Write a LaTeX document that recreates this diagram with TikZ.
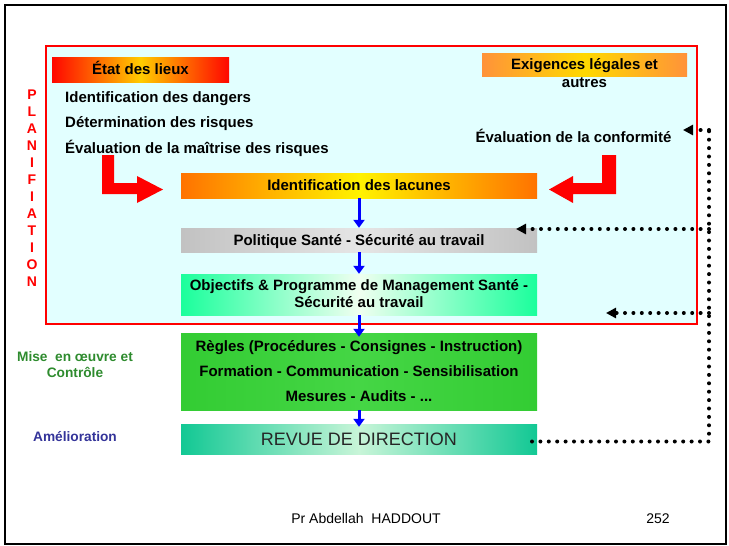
\documentclass[tikz,border=0pt]{standalone}
\usepackage{fontspec}
\setmainfont{Liberation Sans}
\usetikzlibrary{arrows.meta}
\definecolor{plancyan}{HTML}{E2FFFF}
\definecolor{txtgreen}{HTML}{2E8B2E}
\definecolor{txtblue}{HTML}{333399}
\definecolor{revedge}{HTML}{12C894}
\definecolor{revmid}{HTML}{C8F5D8}
\definecolor{objedge}{HTML}{1AFF9C}
\definecolor{regedge}{HTML}{33CC33}
\definecolor{regmid}{HTML}{45D645}
\begin{document}
\begin{tikzpicture}[x=1pt,y=-1pt,
  bold/.style={font=\bfseries\fontsize{15pt}{17pt}\selectfont, text=black, inner sep=0pt},
  box/.style={bold, minimum width=356pt, text height=10.7pt, text depth=0pt},
  hshade/.style 2 args={left color=#1, right color=#1, middle color=#2},
  bluearrow/.style={draw=blue, line width=3pt, -{Triangle[length=8pt,width=11pt]}},
  feedback/.style={draw=black, line width=4pt, line cap=round, dash pattern=on 0pt off 8.4pt, -{Triangle[length=10pt,width=10pt]}},
  feedbackline/.style={draw=black, line width=4pt, line cap=round, dash pattern=on 0pt off 8.4pt},
  redarrow/.style={fill=red}
]
\useasboundingbox (0,0) rectangle (729,546);
% slide frame
\draw[line width=2pt] (5,5) rectangle (726,544);

% planning area
\node[draw=red, line width=1.3pt, fill=plancyan, minimum width=651pt, minimum height=278pt, inner sep=0pt] (plan) at (371.5,185) {};
\node[font=\bfseries\fontsize{14pt}{17pt}\selectfont, text=red, align=center, inner sep=0pt, text height=197pt, text depth=0pt] (planlbl) at (32,188.4)
  {P\\L\\A\\N\\I\\F\\I\\A\\T\\I\\O\\N};

% headers
\node[bold, hshade={red!95!orange}{orange!40!yellow}, minimum width=177pt, minimum height=25pt, text height=10.7pt, text depth=0pt] (etat) at (140.5,69.5) {État des lieux};
\node[bold, hshade={orange!70!pink}{yellow!70!orange}, minimum width=205pt, minimum height=23pt, text height=10.7pt, text depth=0pt] (exig) at (584.5,64.5) {Exigences légales et};
\node[bold, text height=10.7pt, text depth=0pt] (autres) at (584.5,82) {autres};

% inventory lines
\node[bold, anchor=west, text height=10.7pt, text depth=0pt] (dang) at (65,97) {Identification des dangers};
\node[bold, anchor=west, text height=10.7pt, text depth=0pt] (risq) at (65,122) {Détermination des risques};
\node[bold, anchor=west, text height=10.7pt, text depth=0pt] (maitr) at (65,148) {Évaluation de la maîtrise des risques};
\node[bold, text height=10.7pt, text depth=0pt] (conf) at (573.5,137) {Évaluation de la conformité};

% main chain
\node[box, hshade={orange!90!red}{yellow!90!orange}, minimum height=25pt] (lac) at (359,185.5) {Identification des lacunes};
\node[box, hshade={black!24}{black!10}, minimum height=24pt] (pol) at (359,240) {Politique Santé - Sécurité au travail};
\node[box, hshade={objedge}{green!6}, minimum height=41pt, align=center, text height=26.7pt] (obj) at (359,294.5)
  {Objectifs \& Programme de Management Santé -\\Sécurité au travail};
\node[box, font=\bfseries\fontsize{15pt}{25pt}\selectfont, hshade={regedge}{regmid}, minimum height=77pt, align=center, text height=60.7pt] (reg) at (359,371.5)
  {Règles (Procédures - Consignes - Instruction)\\Formation - Communication - Sensibilisation\\Mesures - Audits - ...};
\node[box, font=\fontsize{18pt}{20pt}\selectfont, text=black!85, hshade={revedge}{revmid}, minimum height=30pt, text height=12.9pt] (rev) at (359,439) {REVUE DE DIRECTION};

% left labels
\node[font=\bfseries\fontsize{13.7pt}{16pt}\selectfont, text=txtgreen, align=center, inner sep=0pt, text height=25.8pt, text depth=0pt] (mise) at (75,365) {Mise~~en œuvre et\\Contrôle};
\node[font=\bfseries\fontsize{13.7pt}{16pt}\selectfont, text=txtblue, inner sep=0pt, text height=9.8pt, text depth=0pt] (amel) at (75,437) {Amélioration};

% blue flow arrows
\draw[bluearrow] (lac.south) -- (pol.north);
\draw[bluearrow] (pol.south) -- (obj.north);
\draw[bluearrow] (obj.south) -- ([yshift=-4pt]reg.north);
\draw[bluearrow] (reg.south) -- ([yshift=-3pt]rev.north);

% red entry arrows
\fill[redarrow] (102,155) -- (114,155) -- (114,183) -- (137,183) -- (137,176) -- (163,189.5) -- (137,203) -- (137,194) -- (102,194) -- cycle;
\fill[redarrow] (616,155) -- (602,155) -- (602,183) -- (573,183) -- (573,176) -- (549,189.5) -- (573,203) -- (573,194) -- (616,194) -- cycle;

% feedback loop
\coordinate (fbstart) at (532,441.5);
\coordinate (fbbot) at (709,441.5);
\coordinate (fbtop) at (709,130);
\coordinate (fbpol) at (709,229);
\coordinate (fbobj) at (709,313);
\coordinate (tipconf) at (683,130);
\coordinate (tippol) at (516,229);
\coordinate (tipobj) at (606,313);
\draw[feedbackline] (fbstart) -- (fbbot) -- (fbtop);
\draw[feedback] (fbtop) -- (tipconf);
\draw[feedback] (fbpol) -- (tippol);
\draw[feedback] (fbobj) -- (tipobj);

% footer
\node[font=\fontsize{14pt}{16pt}\selectfont, inner sep=0pt, text height=10pt, text depth=0pt] (auteur) at (366,518) {Pr Abdellah~~HADDOUT};
\node[font=\fontsize{14pt}{16pt}\selectfont, inner sep=0pt, text height=10pt, text depth=0pt] (page) at (658,518) {252};
\end{tikzpicture}
\end{document}
